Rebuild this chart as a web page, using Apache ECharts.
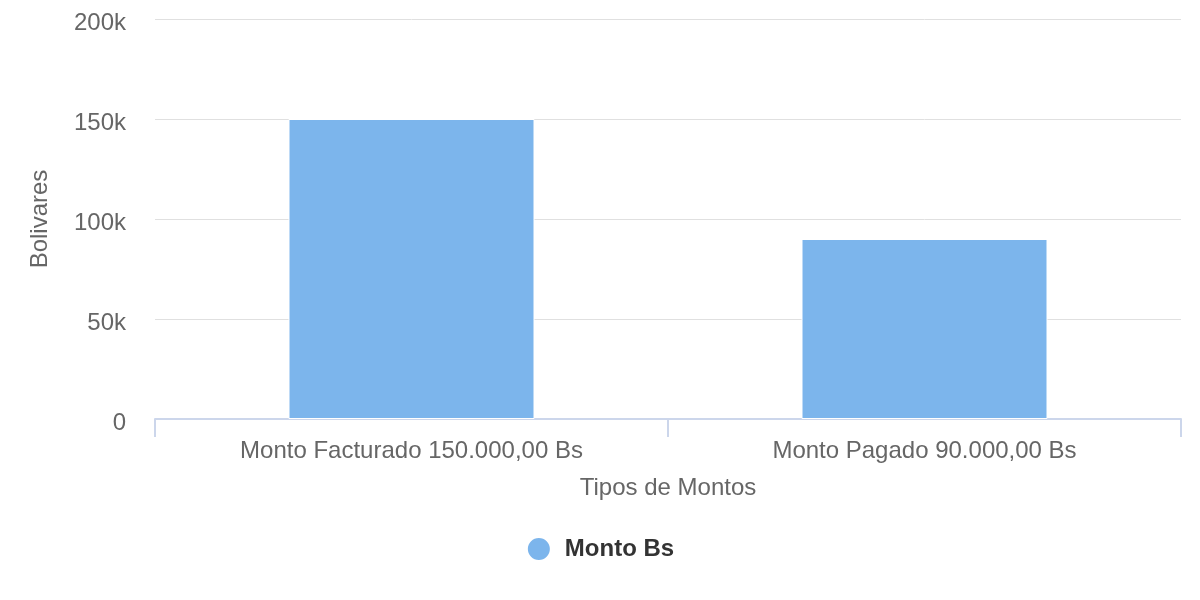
<!DOCTYPE html>
<html>
<head>
<meta charset="utf-8">
<script src="https://cdn.jsdelivr.net/npm/echarts@6/dist/echarts.min.js"></script>
<style>
  html, body { margin: 0; padding: 0; background: #fff; }
  #chart { width: 1200px; height: 600px; }
</style>
</head>
<body>
<div id="chart"></div>
<script>
// datos del grafico
const categories = ['Monto Facturado 150.000,00 Bs', 'Monto Pagado 90.000,00 Bs'];
const montoBs = [150000, 90000];
const seriesName = 'Monto Bs';

const FONT = '"Liberation Sans", Arial, Helvetica, sans-serif';

const chart = echarts.init(document.getElementById('chart'));
chart.setOption({
    animation: false,
    textStyle: { fontFamily: FONT },
    grid: { left: 155, right: 19, top: 19, bottom: 181 },
    legend: {
        data: [{ name: seriesName, icon: 'circle' }],
        bottom: 33,
        left: 'center',
        itemWidth: 24,
        itemHeight: 24,
        itemGap: 12,
        textStyle: { fontSize: 24, fontWeight: 'bold', color: '#333333', fontFamily: FONT, padding: [0, 0, 0, 9] }
    },
    xAxis: {
        type: 'category',
        data: categories,
        name: 'Tipos de Montos',
        nameLocation: 'middle',
        nameGap: 57,
        nameTextStyle: { fontSize: 24, color: '#666666', fontFamily: FONT },
        axisLine: { lineStyle: { color: '#ccd6eb', width: 2 } },
        axisTick: { show: true, interval: 0, length: 18, lineStyle: { color: '#ccd6eb', width: 2 } },
        axisLabel: { fontSize: 24, color: '#666666', margin: 20, fontFamily: FONT }
    },
    yAxis: {
        type: 'value',
        min: 0,
        max: 200000,
        interval: 50000,
        name: 'Bolivares',
        nameLocation: 'middle',
        nameGap: 103,
        nameTextStyle: { fontSize: 24, color: '#666666', fontFamily: FONT },
        axisLine: { show: false },
        axisTick: { show: false },
        splitLine: { lineStyle: { color: '#e0e0e0', width: 1 } },
        axisLabel: {
            fontSize: 24,
            color: '#666666',
            margin: 29,
            verticalAlign: 'top',
            lineHeight: 8,
            fontFamily: FONT,
            formatter: (v) => (v === 0 ? '0' : v / 1000 + 'k')
        }
    },
    series: [
        {
            name: seriesName,
            type: 'bar',
            data: montoBs,
            barWidth: 246,
            itemStyle: { color: '#7cb5ec', borderColor: '#ffffff', borderWidth: 1 }
        }
    ]
});
</script>
</body>
</html>
